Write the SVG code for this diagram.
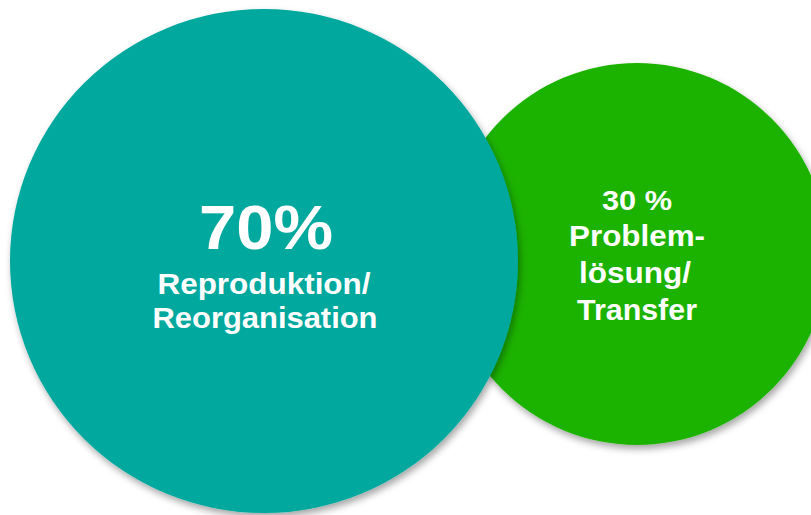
<svg xmlns="http://www.w3.org/2000/svg" width="811" height="515" viewBox="0 0 811 515">
<defs>
<filter id="sh" x="-10%" y="-10%" width="125%" height="125%">
<feDropShadow dx="2" dy="4" stdDeviation="3.5" flood-color="#000" flood-opacity="0.35"/>
</filter>
<style>
.t{font-family:"Liberation Sans",Arial,sans-serif;font-weight:bold;fill:#fff;text-anchor:middle}
</style>
</defs>
<rect width="811" height="515" fill="#fff"/>
<g id="green">
<ellipse cx="637" cy="254" rx="191" ry="191" fill="#1FB202" filter="url(#sh)"/>
<text class="t" x="637" y="210" font-size="27" textLength="70" lengthAdjust="spacingAndGlyphs">30 %</text>
<text class="t" x="637" y="246" font-size="29" textLength="136" lengthAdjust="spacingAndGlyphs">Problem-</text>
<text class="t" x="635" y="283" font-size="29" textLength="112" lengthAdjust="spacingAndGlyphs">lösung/</text>
<text class="t" x="637" y="320" font-size="29" textLength="120" lengthAdjust="spacingAndGlyphs">Transfer</text>
</g>
<g id="teal">
<ellipse cx="264" cy="261" rx="254" ry="252" fill="#02A89E" filter="url(#sh)"/>
<text class="t" x="266" y="249" font-size="63" textLength="134" lengthAdjust="spacingAndGlyphs">70%</text>
<text class="t" x="264" y="294" font-size="30" textLength="213" lengthAdjust="spacingAndGlyphs">Reproduktion/</text>
<text class="t" x="265" y="328" font-size="30" textLength="225" lengthAdjust="spacingAndGlyphs">Reorganisation</text>
</g>
<g id="connectors"/>
</svg>
